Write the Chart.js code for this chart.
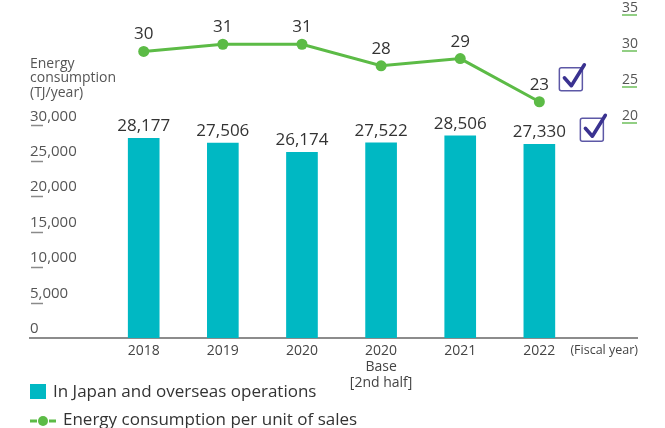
<!DOCTYPE html>
<html><head><meta charset="utf-8">
<script src="https://cdn.jsdelivr.net/npm/chart.js@4.4.1/dist/chart.umd.min.js"></script>
<style>html,body{margin:0;padding:0;background:#fff;}#wrap{width:665px;height:428px;}</style>
</head><body><div id="wrap"><canvas id="c" width="665" height="428"></canvas></div>
<script>
// ---- data ----
const categories = [['2018'], ['2019'], ['2020'], ['2020', 'Base', '[2nd half]'], ['2021'], ['2022']];
const energyTJ = [28177, 27506, 26174, 27522, 28506, 27330];
const perUnitSales = [30, 31, 31, 28, 29, 23];
const leftTicks = [0, 5000, 10000, 15000, 20000, 25000, 30000];
const rightTicks = [20, 25, 30, 35];
const barLabel = 'In Japan and overseas operations';
const lineLabel = 'Energy consumption per unit of sales';
const axisTitleLines = ['Energy', 'consumption', '(TJ/year)'];
const fiscalLabel = '(Fiscal year)';

// ---- styles ----
const FONT = "'Open Sans', sans-serif";
const TEAL = '#00b8c3';
const GREEN = '#5cbb46';
const FISCAL_POS = 5.82;

Chart.defaults.font.family = FONT;
Chart.defaults.color = '#444';

const fmt = v => v.toLocaleString('en-US');
const noPad = s => { s.paddingLeft = 0; s.paddingRight = 0; s.paddingTop = 0; s.paddingBottom = 0; };

const decorPlugin = {
  id: 'decor',
  afterDatasetsDraw(chart) {
    const ctx = chart.ctx;
    const area = chart.chartArea;
    ctx.save();
    // tick underlines
    const ys = chart.scales.y;
    ctx.strokeStyle = '#8a8a8a'; ctx.lineWidth = 1.5;
    leftTicks.forEach(v => {
      if (v === 0) return;
      const p = Math.round(ys.getPixelForValue(v)) + 0.5;
      ctx.beginPath(); ctx.moveTo(area.left + 1, p); ctx.lineTo(area.left + 13, p); ctx.stroke();
    });
    const y2 = chart.scales.y2;
    ctx.strokeStyle = '#92cf84'; ctx.lineWidth = 2;
    rightTicks.forEach(v => {
      const p = Math.round(y2.getPixelForValue(v));
      ctx.beginPath(); ctx.moveTo(area.right - 15, p); ctx.lineTo(area.right, p); ctx.stroke();
    });
    // value labels
    ctx.fillStyle = '#333';
    ctx.textAlign = 'center';
    ctx.textBaseline = 'alphabetic';
    ctx.font = '17px ' + FONT;
    const barMeta = chart.getDatasetMeta(0);
    barMeta.data.forEach((el, i) => {
      ctx.fillText(fmt(energyTJ[i]), el.x, el.y - 7);
    });
    const lineMeta = chart.getDatasetMeta(1);
    lineMeta.data.forEach((el, i) => {
      ctx.fillText(String(perUnitSales[i]), el.x, el.y - 12);
    });
    // check boxes next to last values
    const drawCheck = (l, t) => {
      ctx.strokeStyle = '#5d58a6'; ctx.lineWidth = 1.5;
      ctx.beginPath();
      if (ctx.roundRect) ctx.roundRect(l, t, 23, 23, 2); else ctx.rect(l, t, 23, 23);
      ctx.stroke();
      ctx.strokeStyle = '#3a3290'; ctx.lineWidth = 3.5; ctx.lineCap = 'round'; ctx.lineJoin = 'round';
      ctx.beginPath(); ctx.moveTo(l + 5, t + 10); ctx.lineTo(l + 12, t + 18); ctx.lineTo(l + 25, t - 3); ctx.stroke();
    };
    const lastL = lineMeta.data[lineMeta.data.length - 1];
    drawCheck(lastL.x + 20, lastL.y - 34);
    const lastB = barMeta.data[barMeta.data.length - 1];
    drawCheck(lastB.x + 41, lastB.y - 26);
    // axis title
    ctx.fillStyle = '#555'; ctx.textAlign = 'left'; ctx.textBaseline = 'middle';
    ctx.font = '14px ' + FONT;
    axisTitleLines.forEach((s, i) => ctx.fillText(s, 30, 64 + i * 14.5));
    // legend
    ctx.fillStyle = TEAL; ctx.fillRect(30, 384, 16, 15);
    ctx.fillStyle = '#333'; ctx.font = '17px ' + FONT;
    ctx.fillText(chart.data.datasets[0].label, 53, 392);
    ctx.strokeStyle = GREEN; ctx.lineWidth = 3; ctx.lineCap = 'butt';
    ctx.beginPath(); ctx.moveTo(30, 421); ctx.lineTo(37, 421); ctx.moveTo(49, 421); ctx.lineTo(56, 421); ctx.stroke();
    ctx.fillStyle = GREEN; ctx.beginPath(); ctx.arc(43, 421, 5, 0, Math.PI * 2); ctx.fill();
    ctx.fillStyle = '#333';
    ctx.fillText(chart.data.datasets[1].label, 63, 420);
    ctx.restore();
  }
};

new Chart(document.getElementById('c'), {
  data: {
    datasets: [
      {
        type: 'bar', label: barLabel, order: 2, yAxisID: 'y',
        data: energyTJ.map((v, i) => ({ x: i, y: v })),
        backgroundColor: TEAL, barThickness: 31, borderWidth: 0
      },
      {
        type: 'line', label: lineLabel, order: 1, yAxisID: 'y2',
        data: perUnitSales.map((v, i) => ({ x: i, y: v })),
        borderColor: GREEN, borderWidth: 3, pointRadius: 5.5,
        pointBackgroundColor: GREEN, pointBorderWidth: 0, tension: 0
      }
    ]
  },
  options: {
    responsive: false, animation: false, devicePixelRatio: 1,
    layout: { padding: { left: 30, right: 28, top: 5, bottom: 0 } },
    plugins: { legend: { display: false }, tooltip: { enabled: false } },
    scales: {
      x: {
        type: 'linear', min: -1.437, max: 6.234, offset: false,
        grid: { display: false, drawTicks: false },
        border: { display: true, color: '#8c8c8c', width: 2 },
        afterBuildTicks: s => { s.ticks = categories.map((c, i) => ({ value: i })).concat([{ value: FISCAL_POS }]); },
        afterFit: s => { s.height = 90; noPad(s); },
        ticks: {
          autoSkip: false, maxRotation: 0, minRotation: 0, padding: 5, color: '#444',
          font: c => ({ size: c.index === categories.length ? 12.5 : 14, family: FONT, lineHeight: 1.15 }),
          callback: (v) => Number.isInteger(v) ? categories[v] : fiscalLabel
        }
      },
      y: {
        position: 'left', min: 0, max: 46901,
        afterBuildTicks: s => { s.ticks = leftTicks.map(v => ({ value: v })); },
        afterFit: s => { s.width = 0; noPad(s); },
        grid: { display: false, drawTicks: false }, border: { display: false },
        ticks: { mirror: true, padding: 0, labelOffset: -9, color: '#555', font: { size: 15 }, callback: v => fmt(v) }
      },
      y2: {
        position: 'right', min: -9.861, max: 36.389,
        afterBuildTicks: s => { s.ticks = rightTicks.map(v => ({ value: v })); },
        afterFit: s => { s.width = 0; noPad(s); },
        grid: { display: false, drawTicks: false }, border: { display: false },
        ticks: { mirror: true, padding: 1, labelOffset: -7, color: '#555', font: { size: 14 } }
      }
    }
  },
  plugins: [decorPlugin]
});
</script>
</body></html>
